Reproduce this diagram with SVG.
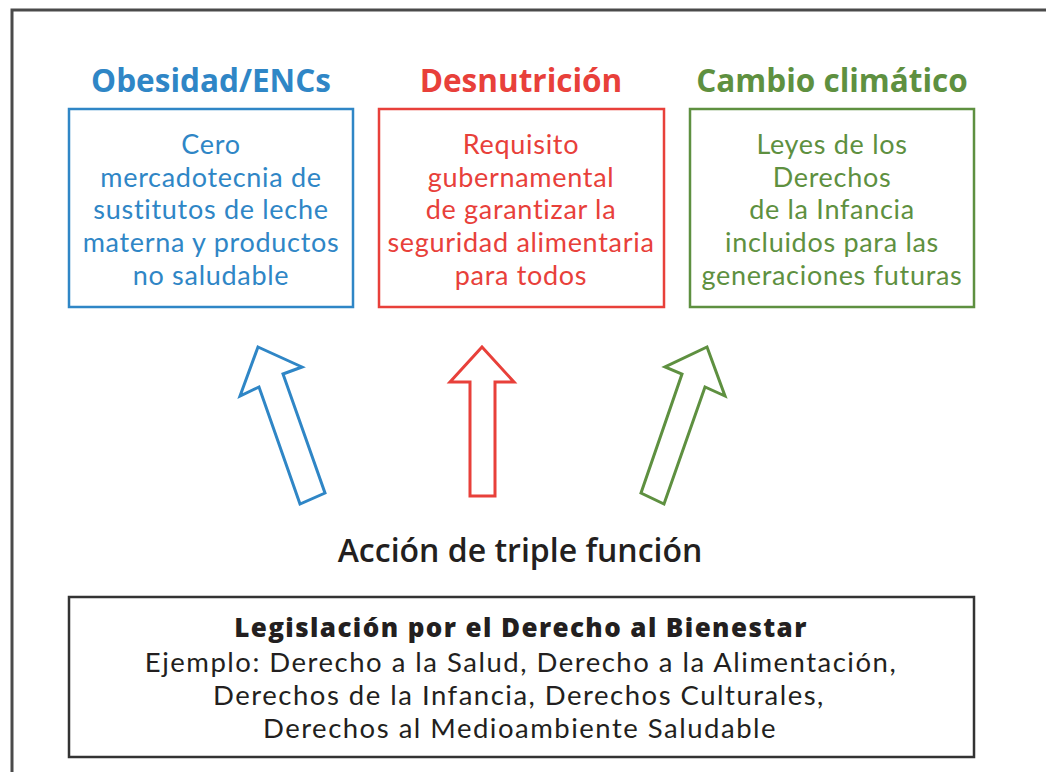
<svg xmlns="http://www.w3.org/2000/svg" width="1046" height="772" viewBox="0 0 1046 772">
<style>
.t{font-family:"Open Sans","Noto Sans",sans-serif;text-anchor:middle}
.l{font-family:Lato,"Open Sans",sans-serif;text-anchor:middle}
.h{font-size:31.5px;font-weight:700}
.b{font-size:27px;letter-spacing:0.7px}
.blue{fill:#2f86c6}.red{fill:#e8403a}.green{fill:#5e9040}
.box{fill:#fff;stroke-width:2.5}
.arr{fill:#fff;stroke-width:3;stroke-linejoin:miter}
.dark{fill:#231f20}
</style>
<rect x="0" y="0" width="1046" height="772" fill="#fff"/>
<rect x="12" y="10" width="1060" height="790" fill="none" stroke="#4a4a4a" stroke-width="3"/>
<g id="node-obesidad">
<text class="t h blue" x="211" y="92">Obesidad/ENCs</text>
<rect class="box" x="69" y="109" width="284" height="198" stroke="#2f86c6"/>
<text class="l b blue"><tspan x="211" y="154">Cero</tspan><tspan x="211" y="187">mercadotecnia de</tspan><tspan x="211" y="219">sustitutos de leche</tspan><tspan x="211" y="252">materna y productos</tspan><tspan x="211" y="285">no saludable</tspan></text>
</g>
<g id="node-desnutricion">
<text class="t h red" x="521" y="92">Desnutrición</text>
<rect class="box" x="379" y="109" width="285" height="198" stroke="#e8403a"/>
<text class="l b red"><tspan x="521" y="154">Requisito</tspan><tspan x="521" y="187">gubernamental</tspan><tspan x="521" y="219">de garantizar la</tspan><tspan x="521" y="252">seguridad alimentaria</tspan><tspan x="521" y="285">para todos</tspan></text>
</g>
<g id="node-cambio">
<text class="t h green" x="832" y="92">Cambio climático</text>
<rect class="box" x="690" y="109" width="284" height="198" stroke="#5e9040"/>
<text class="l b green"><tspan x="832" y="154">Leyes de los</tspan><tspan x="832" y="187">Derechos</tspan><tspan x="832" y="219">de la Infancia</tspan><tspan x="832" y="252">incluidos para las</tspan><tspan x="832" y="285">generaciones futuras</tspan></text>
</g>
<g id="connectors">
<polygon class="arr" stroke="#2f86c6" points="258,347 302,367 283,374 325,493 300,504 259,387 240,396"/>
<polygon class="arr" stroke="#e8403a" points="482,347 514,382 495,382 495,496 470,496 470,382 450,382"/>
<polygon class="arr" stroke="#5e9040" points="707,347 725,396 705,387 664,504 641,493 682,374 665,367"/>
</g>
<g id="node-accion">
<text class="t dark" x="520" y="562" font-size="32" font-weight="600">Acción de triple función</text>
</g>
<g id="node-legislacion">
<rect x="69" y="597" width="905" height="160" fill="#fff" stroke="#333" stroke-width="2.5"/>
<text class="t dark" x="521" y="637" font-size="26" font-weight="800" letter-spacing="1.4">Legislación por el Derecho al Bienestar</text>
<text class="l dark" font-size="27.5" letter-spacing="1.5"><tspan x="521" y="672">Ejemplo: Derecho a la Salud, Derecho a la Alimentación,</tspan><tspan x="519" y="705">Derechos de la Infancia, Derechos Culturales,</tspan><tspan x="520" y="738">Derechos al Medioambiente Saludable</tspan></text>
</g>
</svg>
